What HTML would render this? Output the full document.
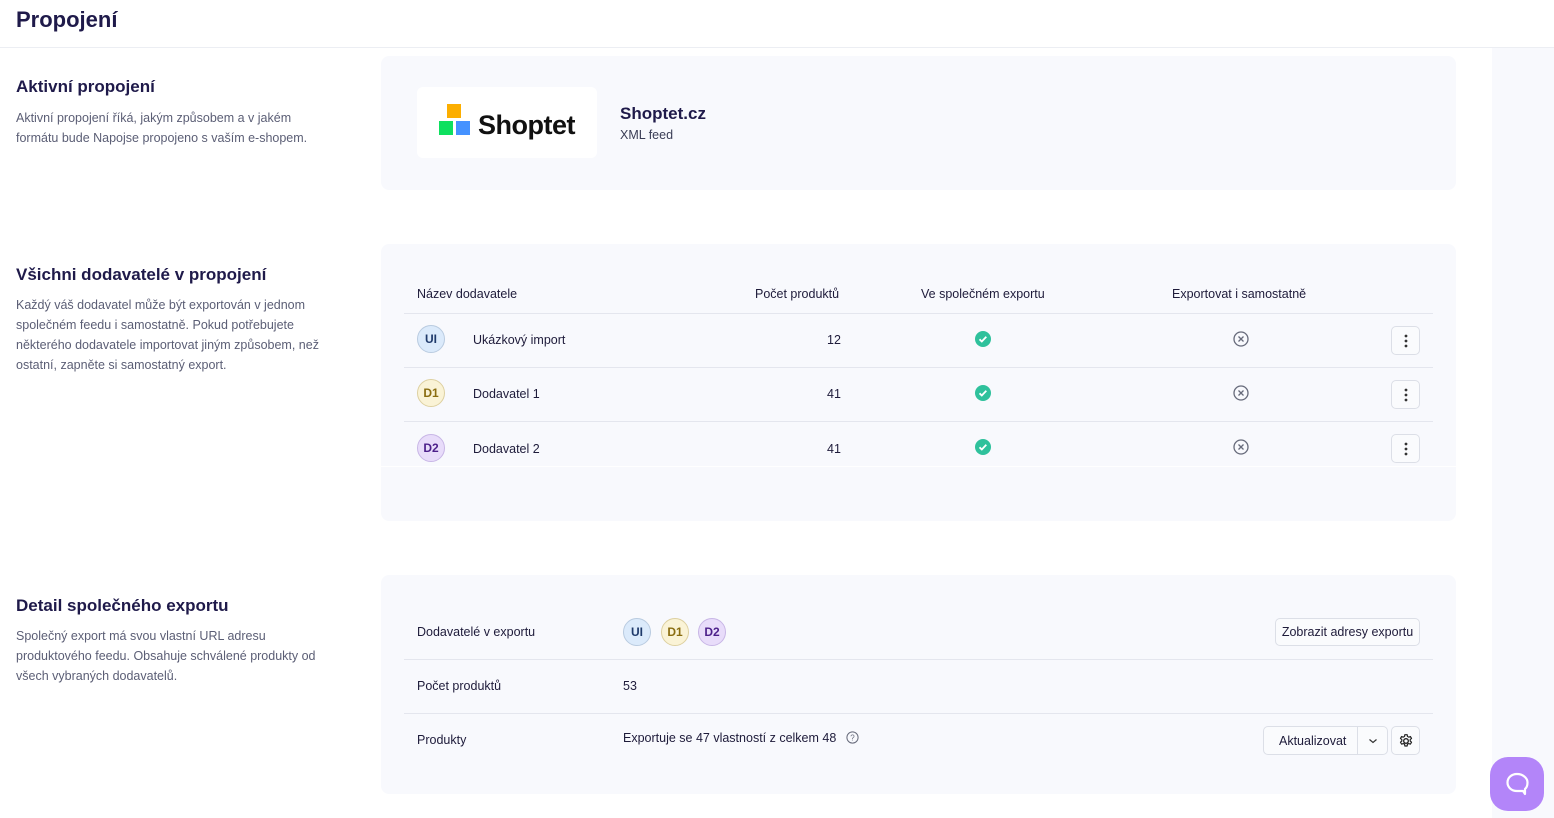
<!DOCTYPE html>
<html><head><meta charset="utf-8"><style>
*{box-sizing:border-box;margin:0;padding:0}
body{width:1554px;height:818px;background:#fff;font-family:"Liberation Sans",sans-serif;color:#1e1b3a;position:relative;overflow:hidden}
.a{position:absolute}
h1{position:absolute;left:16px;top:7px;font-size:22px;font-weight:bold;color:#1f1a4a}
.hdr{position:absolute;left:0;top:47px;width:1554px;height:1px;background:#eceef3}
.strip{position:absolute;left:1492px;top:48px;width:62px;height:770px;background:#f8f9fd}
h2{position:absolute;left:16px;font-size:17px;font-weight:bold;color:#1f1a4a;transform:translateY(1px)}
.desc{position:absolute;left:16px;width:320px;font-size:12.5px;line-height:20px;color:#5b5e75;transform:translateY(1px)}
.card{position:absolute;left:381px;width:1075px;background:#f8f9fd;border-radius:8px}
.t{position:absolute;font-size:12.5px;color:#1e1b3a;white-space:nowrap;transform:translateY(1px)}
.line{position:absolute;left:404px;width:1029px;height:1px;background:#e4e6ee}
.av{position:absolute;width:28px;height:28px;border-radius:50%;font-size:12px;font-weight:bold;display:flex;align-items:center;justify-content:center}
.ui{background:#dbeafb;border:1px solid #b9cbe0;color:#1f3a6b}
.d1{background:#faf3d6;border:1px solid #ddd0a0;color:#8a6d10}
.d2{background:#e8dcfa;border:1px solid #c8b6e6;color:#4c1f8a}
.btn{position:absolute;background:#fafbfd;border:1px solid #dcdfe7;border-radius:5px;font-size:12.5px;display:flex;align-items:center;justify-content:center}
</style></head><body>
<h1>Propojení</h1>
<div class="hdr"></div>
<div class="strip"></div>

<h2 style="top:76px">Aktivní propojení</h2>
<div class="desc" style="top:107px">Aktivní propojení říká, jakým způsobem a v jakém formátu bude Napojse propojeno s vaším e-shopem.</div>
<div class="card" style="top:56px;height:134px"></div>
<div class="a" style="left:417px;top:87px;width:180px;height:71px;background:#fff;border-radius:6px"></div>
<div class="a" style="left:447px;top:104px;width:14px;height:14px;background:#fcae00"></div>
<div class="a" style="left:439px;top:121px;width:14px;height:14px;background:#0ee05f"></div>
<div class="a" style="left:456px;top:121px;width:14px;height:14px;background:#4592ff"></div>
<div class="t" style="left:478px;top:109px;font-size:27px;font-weight:bold;color:#111;letter-spacing:-0.5px">Shoptet</div>
<div class="t" style="left:620px;top:103px;font-size:17px;font-weight:bold;color:#1f1a4a">Shoptet.cz</div>
<div class="t" style="left:620px;top:127px;color:#3a3d55">XML feed</div>

<h2 style="top:264px">Všichni dodavatelé v propojení</h2>
<div class="desc" style="top:294px">Každý váš dodavatel může být exportován v jednom společném feedu i samostatně. Pokud potřebujete některého dodavatele importovat jiným způsobem, než ostatní, zapněte si samostatný export.</div>
<div class="card" style="top:244px;height:277px"></div>
<div class="t" style="left:417px;top:286px">Název dodavatele</div>
<div class="t" style="left:755px;top:286px">Počet produktů</div>
<div class="t" style="left:921px;top:286px">Ve společném exportu</div>
<div class="t" style="left:1172px;top:286px">Exportovat i samostatně</div>
<div class="line" style="top:313px"></div>
<div class="line" style="top:367px"></div>
<div class="line" style="top:421px"></div>
<div class="a" style="left:381px;top:466px;width:1075px;height:1px;background:#fff"></div>

<div class="av ui" style="left:417px;top:325px">UI</div>
<div class="t" style="left:473px;top:332px">Ukázkový import</div>
<div class="t" style="left:827px;top:332px">12</div>
<div class="av d1" style="left:417px;top:379px">D1</div>
<div class="t" style="left:473px;top:386px">Dodavatel 1</div>
<div class="t" style="left:827px;top:386px">41</div>
<div class="av d2" style="left:417px;top:434px">D2</div>
<div class="t" style="left:473px;top:441px">Dodavatel 2</div>
<div class="t" style="left:827px;top:441px">41</div>

<svg class="a" style="left:975px;top:331px" width="16" height="16"><circle cx="8" cy="8" r="8" fill="#2fc19c"/><path d="M4.5 8.3l2.3 2.2 4.5-4.7" stroke="#fff" stroke-width="1.8" fill="none"/></svg>
<svg class="a" style="left:975px;top:385px" width="16" height="16"><circle cx="8" cy="8" r="8" fill="#2fc19c"/><path d="M4.5 8.3l2.3 2.2 4.5-4.7" stroke="#fff" stroke-width="1.8" fill="none"/></svg>
<svg class="a" style="left:975px;top:439px" width="16" height="16"><circle cx="8" cy="8" r="8" fill="#2fc19c"/><path d="M4.5 8.3l2.3 2.2 4.5-4.7" stroke="#fff" stroke-width="1.8" fill="none"/></svg>
<svg class="a" style="left:1233px;top:331px" width="16" height="16"><circle cx="8" cy="8" r="7" fill="none" stroke="#666a7a" stroke-width="1.3"/><path d="M5.5 5.5l5 5M10.5 5.5l-5 5" stroke="#666a7a" stroke-width="1.3"/></svg>
<svg class="a" style="left:1233px;top:385px" width="16" height="16"><circle cx="8" cy="8" r="7" fill="none" stroke="#666a7a" stroke-width="1.3"/><path d="M5.5 5.5l5 5M10.5 5.5l-5 5" stroke="#666a7a" stroke-width="1.3"/></svg>
<svg class="a" style="left:1233px;top:439px" width="16" height="16"><circle cx="8" cy="8" r="7" fill="none" stroke="#666a7a" stroke-width="1.3"/><path d="M5.5 5.5l5 5M10.5 5.5l-5 5" stroke="#666a7a" stroke-width="1.3"/></svg>

<div class="btn" style="left:1391px;top:326px;width:29px;height:29px"><svg width="4" height="14"><circle cx="2" cy="2" r="1.4" fill="#333"/><circle cx="2" cy="7" r="1.4" fill="#333"/><circle cx="2" cy="12" r="1.4" fill="#333"/></svg></div>
<div class="btn" style="left:1391px;top:380px;width:29px;height:29px"><svg width="4" height="14"><circle cx="2" cy="2" r="1.4" fill="#333"/><circle cx="2" cy="7" r="1.4" fill="#333"/><circle cx="2" cy="12" r="1.4" fill="#333"/></svg></div>
<div class="btn" style="left:1391px;top:434px;width:29px;height:29px"><svg width="4" height="14"><circle cx="2" cy="2" r="1.4" fill="#333"/><circle cx="2" cy="7" r="1.4" fill="#333"/><circle cx="2" cy="12" r="1.4" fill="#333"/></svg></div>

<h2 style="top:595px">Detail společného exportu</h2>
<div class="desc" style="top:625px">Společný export má svou vlastní URL adresu produktového feedu. Obsahuje schválené produkty od všech vybraných dodavatelů.</div>
<div class="card" style="top:575px;height:219px"></div>
<div class="t" style="left:417px;top:624px">Dodavatelé v exportu</div>
<div class="av ui" style="left:623px;top:618px">UI</div>
<div class="av d1" style="left:661px;top:618px">D1</div>
<div class="av d2" style="left:698px;top:618px">D2</div>
<div class="btn" style="left:1275px;top:618px;width:145px;height:28px">Zobrazit adresy exportu</div>
<div class="line" style="top:659px"></div>
<div class="t" style="left:417px;top:678px">Počet produktů</div>
<div class="t" style="left:623px;top:678px">53</div>
<div class="line" style="top:713px"></div>
<div class="t" style="left:417px;top:732px">Produkty</div>
<div class="t" style="left:623px;top:730px">Exportuje se 47 vlastností z celkem 48</div>
<svg class="a" style="left:846px;top:731px" width="13" height="13"><circle cx="6.5" cy="6.5" r="5.6" fill="none" stroke="#666a7a" stroke-width="1"/><text x="6.5" y="9.5" font-size="8" text-anchor="middle" fill="#666a7a" font-family="Liberation Sans">?</text></svg>
<div class="btn" style="left:1263px;top:726px;width:125px;height:29px;justify-content:flex-start"><span style="margin-left:15px">Aktualizovat</span><span style="position:absolute;left:93px;top:0;width:1px;height:27px;background:#dcdfe7"></span><svg style="position:absolute;left:104px;top:11px" width="10" height="6"><path d="M1.5 1.5l3.5 3 3.5-3" stroke="#333" fill="none" stroke-width="1.2"/></svg></div>
<div class="btn" style="left:1391px;top:726px;width:29px;height:29px"><svg width="16" height="16" viewBox="0 0 24 24"><path d="M12 8.5a3.5 3.5 0 1 0 0 7 3.5 3.5 0 0 0 0-7z" fill="none" stroke="#222" stroke-width="2"/><path d="M10.3 2.5h3.4l.5 2.6 1.9 1.1 2.5-.9 1.7 2.9-2 1.7v2.2l2 1.7-1.7 2.9-2.5-.9-1.9 1.1-.5 2.6h-3.4l-.5-2.6-1.9-1.1-2.5.9-1.7-2.9 2-1.7v-2.2l-2-1.7 1.7-2.9 2.5.9 1.9-1.1z" fill="none" stroke="#222" stroke-width="1.8" stroke-linejoin="round"/></svg></div>

<div class="a" style="left:1490px;top:757px;width:54px;height:54px;border-radius:18px;background:#b385f9;display:flex;align-items:center;justify-content:center"><svg width="26" height="26" viewBox="0 0 26 26"><path d="M13 3C7.5 3 3.5 6.8 3.5 11.5S7.5 20 13 20h6l2 3v-5c2-1.6 2.5-3.8 2.5-6.5C23.5 6.8 18.5 3 13 3z" fill="none" stroke="#fff" stroke-width="2.2" stroke-linejoin="round"/></svg></div>
</body></html>
